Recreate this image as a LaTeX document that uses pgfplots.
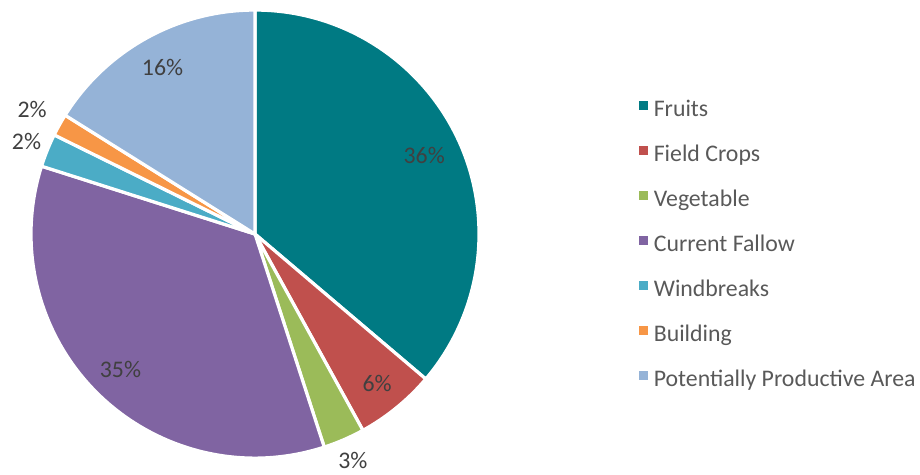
\documentclass[border=0pt]{standalone}
\usepackage{pgfplots}
\usepackage{pgfplotstable}
\pgfplotsset{compat=1.18}
\usepackage{fontspec}
\setmainfont{Carlito}
\definecolor{cFruits}{RGB}{0,122,131}
\definecolor{cField}{HTML}{C0504D}
\definecolor{cVeg}{HTML}{9BBB59}
\definecolor{cFallow}{HTML}{8064A2}
\definecolor{cWind}{HTML}{4BACC6}
\definecolor{cBuild}{HTML}{F79646}
\definecolor{cPot}{HTML}{95B3D7}
\definecolor{txt}{HTML}{404040}
\definecolor{legtxt}{HTML}{595959}

\pgfplotstableread[col sep=comma]{
name,value,col,lr
Fruits,36.2,cFruits,0.84
Field Crops,5.8,cField,0.87
Vegetable,3.0,cVeg,1.11
Current Fallow,34.9,cFallow,0.86
Windbreaks,2.4,cWind,1.11
Building,1.6,cBuild,1.15
Potentially Productive Area,16.1,cPot,0.86
}\pietable

\begin{document}
\begin{tikzpicture}
\def\cum{0}
\pgfplotsforeachungrouped \i in {0,...,6}{%
  \pgfplotstablegetelem{\i}{value}\of\pietable \let\v\pgfplotsretval
  \pgfplotstablegetelem{\i}{col}\of\pietable \let\c\pgfplotsretval
  \pgfplotstablegetelem{\i}{lr}\of\pietable \let\lr\pgfplotsretval
  \pgfmathsetmacro\s{90-3.6*\cum}%
  \pgfmathsetmacro\e{\s-3.6*\v}%
  \pgfmathsetmacro\m{(\s+\e)/2}%
  \pgfmathtruncatemacro\rv{round(\v)}%
  \pgfmathsetmacro\cum{\cum+\v}%
  \expandafter\xdef\csname pS\i\endcsname{\s}%
  \expandafter\xdef\csname pE\i\endcsname{\e}%
  \expandafter\xdef\csname pM\i\endcsname{\m}%
  \expandafter\xdef\csname pC\i\endcsname{\c}%
  \expandafter\xdef\csname pR\i\endcsname{\rv}%
  \expandafter\xdef\csname pL\i\endcsname{\lr}%
}
\begin{axis}[
  scale only axis, width=460pt, height=237pt,
  xmin=0, xmax=920, ymin=0, ymax=474,
  hide axis, clip=false,
  legend style={draw=none, fill=none, at={(axis cs:633,382.5)}, anchor=north west,
    font=\fontsize{11.9pt}{13pt}\selectfont\color{legtxt},
    row sep=8.75pt, cells={anchor=west}},
  legend cell align=left,
  legend image code/.code={\fill[#1] (0pt,-0.4pt) rectangle (4.5pt,4.1pt); \path (5.2pt,0pt);},
]
\pgfplotsinvokeforeach{0,...,6}{
  \edef\tmp{\noexpand\fill[overlay, fill=\csname pC#1\endcsname, draw=white, line width=1.6pt, line join=round]
    (axis cs:255,240) -- ([shift={(\csname pS#1\endcsname:112pt)}]axis cs:255,240)
    arc[start angle=\csname pS#1\endcsname, end angle=\csname pE#1\endcsname, radius=112pt] -- cycle;}
  \tmp
}
\pgfplotsinvokeforeach{0,...,6}{
  \edef\tmp{\noexpand\node[overlay, text=txt, font=\noexpand\fontsize{11.9pt}{13pt}\noexpand\selectfont]
    at ([shift={(\csname pM#1\endcsname:\csname pL#1\endcsname*111pt)}]axis cs:255,240)
    {\csname pR#1\endcsname\noexpand\%};}
  \tmp
}
\addlegendimage{fill=cFruits, draw=none}\addlegendentry{Fruits}
\addlegendimage{fill=cField, draw=none}\addlegendentry{Field Crops}
\addlegendimage{fill=cVeg, draw=none}\addlegendentry{Vegetable}
\addlegendimage{fill=cFallow, draw=none}\addlegendentry{Current Fallow}
\addlegendimage{fill=cWind, draw=none}\addlegendentry{Windbreaks}
\addlegendimage{fill=cBuild, draw=none}\addlegendentry{Building}
\addlegendimage{fill=cPot, draw=none}\addlegendentry{Potentially Productive Area}
\end{axis}
\pgfresetboundingbox
\path (current axis.south west) rectangle (current axis.north east);
\end{tikzpicture}
\end{document}
